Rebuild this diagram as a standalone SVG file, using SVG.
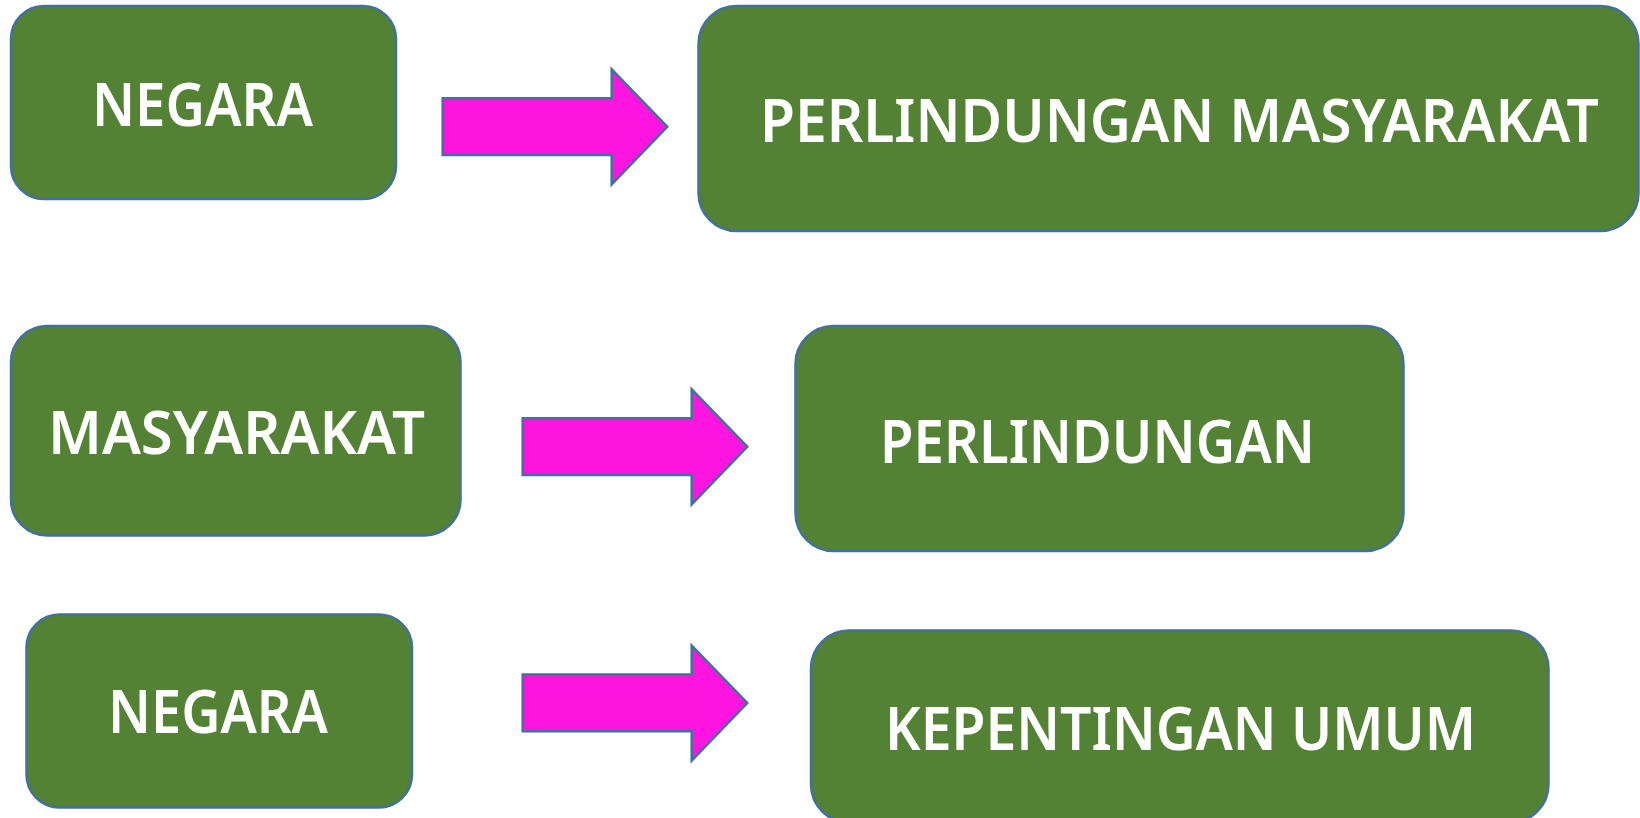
<svg xmlns="http://www.w3.org/2000/svg" width="1640" height="818" viewBox="0 0 1640 818">
<style>
.box{fill:#548235;stroke:#41719C;stroke-width:2.5}
.arr{fill:#FF14E0;stroke:#41719C;stroke-width:2.5;stroke-linejoin:miter}
.lbl{fill:#FFFFFF;font-family:"Noto Sans","Liberation Sans",sans-serif;font-weight:600;font-size:60px}
</style>
<rect x="0" y="0" width="1640" height="818" fill="#FFFFFF"/>
<g id="negara1">
<rect class="box" x="11" y="6" width="385" height="193" rx="33" ry="33"/>
<text class="lbl" x="92" y="126" textLength="221" lengthAdjust="spacingAndGlyphs">NEGARA</text>
</g>
<g id="perlindungan-masyarakat">
<rect class="box" x="698.5" y="6" width="940" height="225" rx="38" ry="38"/>
<text class="lbl" transform="translate(760,142) scale(0.95,1)" x="0" y="0" textLength="883" lengthAdjust="spacingAndGlyphs">PERLINDUNGAN MASYARAKAT</text>
</g>
<g id="masyarakat">
<rect class="box" x="11" y="326" width="449.5" height="209.5" rx="36" ry="36"/>
<text class="lbl" x="48" y="454" textLength="377" lengthAdjust="spacingAndGlyphs">MASYARAKAT</text>
</g>
<g id="perlindungan">
<rect class="box" x="795.5" y="326" width="608" height="225" rx="38" ry="38"/>
<text class="lbl" x="880" y="463" textLength="435" lengthAdjust="spacingAndGlyphs">PERLINDUNGAN</text>
</g>
<g id="negara2">
<rect class="box" x="26.5" y="614.5" width="385.5" height="193" rx="33" ry="33"/>
<text class="lbl" x="108" y="733" textLength="220" lengthAdjust="spacingAndGlyphs">NEGARA</text>
</g>
<g id="kepentingan-umum">
<rect class="box" x="811" y="630.5" width="737.5" height="192" rx="38" ry="38"/>
<text class="lbl" x="885" y="750" textLength="591" lengthAdjust="spacingAndGlyphs">KEPENTINGAN UMUM</text>
</g>
<g id="connectors">
<polygon class="arr" points="442.7,98.3 611.7,98.3 611.7,69.3 667.3,126.7 611.7,184.3 611.7,155 442.7,155"/>
<polygon class="arr" points="522.7,418.3 691.7,418.3 691.7,389.3 747.3,446.7 691.7,504.3 691.7,475 522.7,475"/>
<polygon class="arr" points="522.7,674.6 691.7,674.6 691.7,645.6 747.3,703 691.7,760.6 691.7,731.3 522.7,731.3"/>
</g>
</svg>
